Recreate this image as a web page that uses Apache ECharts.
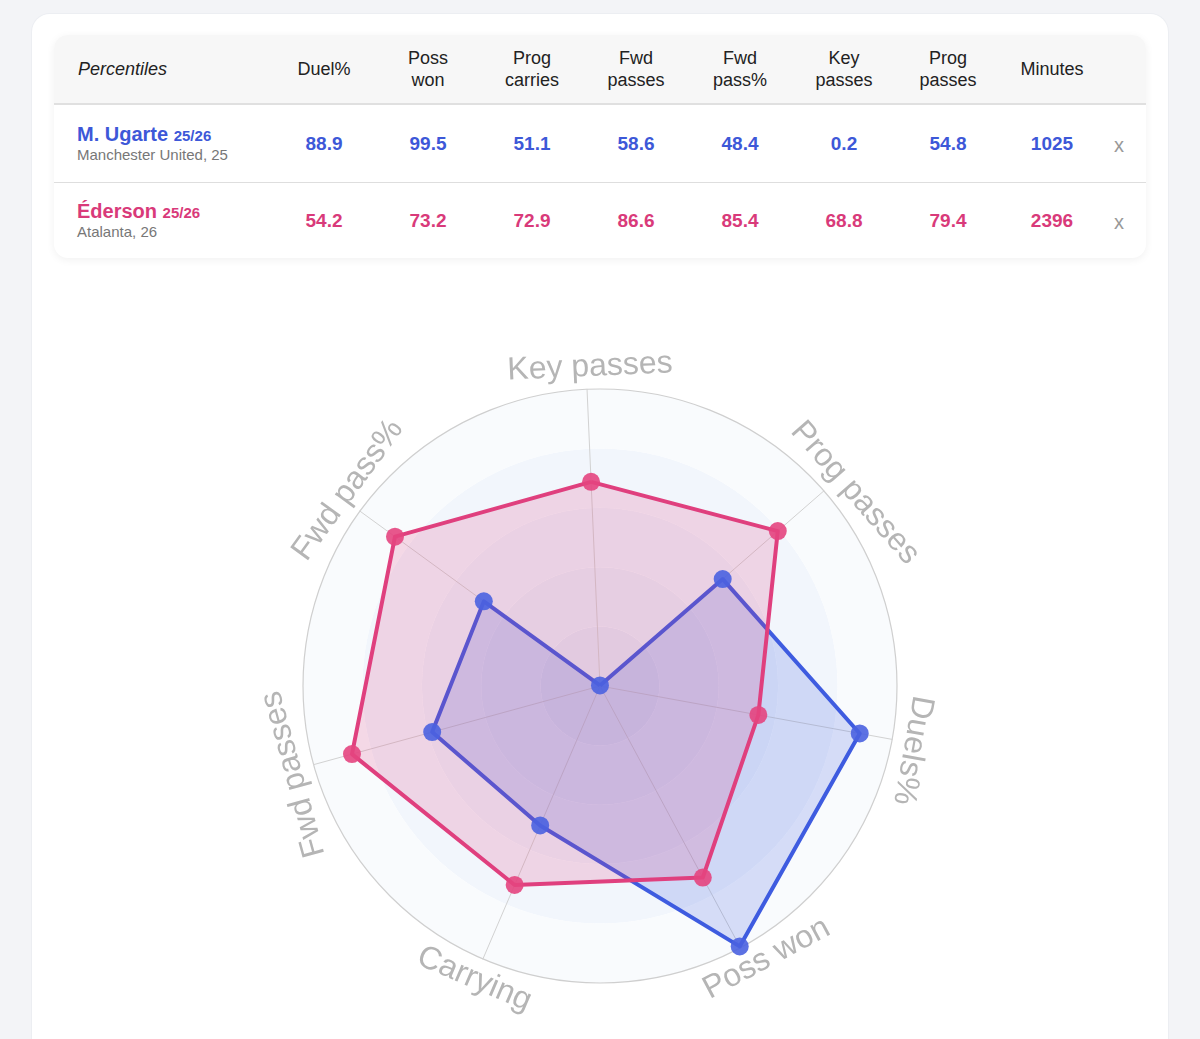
<!DOCTYPE html>
<html>
<head>
<meta charset="utf-8">
<script src="https://cdn.jsdelivr.net/npm/echarts@6/dist/echarts.min.js"></script>
<style>
  html, body { margin: 0; padding: 0; }
  body {
    width: 1200px; height: 1039px; overflow: hidden; position: relative;
    background: #f3f4f7;
    font-family: "Liberation Sans", Arial, Helvetica, sans-serif;
  }
  .card {
    position: absolute; left: 32px; top: 14px; width: 1136px; height: 1100px;
    background: #fff; border-radius: 18px;
    box-shadow: 0 0 0 1px #eceef2;
  }
  .table_box {
    position: absolute; left: 54px; top: 35px; width: 1092px;
    background: #fff; border-radius: 14px; overflow: hidden;
    box-shadow: 0 2px 8px rgba(0, 0, 0, 0.06);
  }
  table { border-collapse: collapse; table-layout: fixed; width: 1092px; }
  th {
    background: #f7f7f7; font-weight: normal; color: #222; font-size: 18px;
    line-height: 22px; height: 68px; padding: 0; text-align: center;
    border-bottom: 2px solid #e0e0e0;
  }
  th.first { text-align: left; padding-left: 24px; font-style: italic; }
  td { padding: 0; text-align: center; font-size: 19px; font-weight: bold; }
  tr.r1 td { height: 77px; border-bottom: 1px solid #dedede; }
  tr.r2 td { height: 75px; }
  td.player { text-align: left; padding-left: 23px; font-weight: normal; }
  .pname { font-size: 20px; font-weight: bold; line-height: 20px; }
  .pname small { font-size: 15px; }
  .pteam { font-size: 15px; color: #777; line-height: 18px; }
  td.close { color: #999; font-weight: normal; font-size: 20px; text-align: left; padding-left: 10px; }
  td.close span { position: relative; top: 2px; }
  #radar { position: absolute; left: 0; top: 270px; width: 1200px; height: 769px; }
</style>
</head>
<body>
<div class="card"></div>
<div class="table_box"><table id="stats"></table></div>
<div id="radar"></div>
<script>
// table
var columns = ["Duel%", "Poss won", "Prog carries", "Fwd passes", "Fwd pass%", "Key passes", "Prog passes", "Minutes"];
var players = ["M. Ugarte", "Éderson"];
var seasons = ["25/26", "25/26"];
var teams = ["Manchester United, 25", "Atalanta, 26"];
var colors = ["#3d58d8", "#d93a7a"];
var ugarteRow = [88.9, 99.5, 51.1, 58.6, 48.4, 0.2, 54.8, 1025];
var edersonRow = [54.2, 73.2, 72.9, 86.6, 85.4, 68.8, 79.4, 2396];

// radar (counter-clockwise from the top)
var indicators = ["Key passes", "Fwd pass%", "Fwd passes", "Carrying", "Poss won", "Duels%", "Prog passes"];
var ugarteValues = [0.2, 48.4, 58.6, 51.1, 99.5, 88.9, 54.8];
var edersonValues = [68.8, 85.4, 86.6, 72.9, 73.2, 54.2, 79.4];

function buildTable() {
  var rows = [ugarteRow, edersonRow];
  var html = '<colgroup><col style="width:218px">';
  columns.forEach(function () { html += '<col style="width:104px">'; });
  html += '<col style="width:42px"></colgroup>';
  html += '<tr><th class="first">Percentiles</th>';
  columns.forEach(function (c) { html += "<th>" + c.replace(" ", "<br>") + "</th>"; });
  html += "<th></th></tr>";
  rows.forEach(function (row, i) {
    html += '<tr class="r' + (i + 1) + '" style="color:' + colors[i] + '">';
    html += '<td class="player"><div class="pname">' + players[i] + " <small>" + seasons[i] +
      '</small></div><div class="pteam">' + teams[i] + "</div></td>";
    row.forEach(function (v) { html += "<td>" + v + "</td>"; });
    html += '<td class="close"><span>x</span></td></tr>';
  });
  document.getElementById("stats").innerHTML = html;
}
buildTable();

var chart = echarts.init(document.getElementById("radar"));
var cx = 600, cy = 416, radius = 297, labelR = 319, startAngle = 92.5;
// small slide of each name along its reading direction (px)
var nameShift = [4, 10, -4, 0, 18, 7, 22];

// axis names drawn along the circle
var nameLabels = indicators.map(function (name, i) {
  var theta = (startAngle + i * 360 / indicators.length) * Math.PI / 180;
  var flip = Math.sin(theta) < -0.5;
  var rot = flip ? theta + Math.PI / 2 : theta - Math.PI / 2;
  return {
    type: "text",
    x: cx + labelR * Math.cos(theta) + nameShift[i] * Math.cos(rot),
    y: cy - labelR * Math.sin(theta) - nameShift[i] * Math.sin(rot),
    rotation: rot,
    silent: true,
    style: {
      text: name,
      fill: "#b5b5b5",
      fontSize: 32,
      fontFamily: "Liberation Sans, Arial, sans-serif",
      align: "center",
      verticalAlign: "middle"
    }
  };
});

var option = {
  animation: false,
  radar: {
    center: [cx, cy],
    radius: radius,
    startAngle: startAngle,
    shape: "circle",
    splitNumber: 5,
    indicator: indicators.map(function (n) { return { name: n, min: 0, max: 100 }; }),
    axisName: { show: false },
    axisLine: { lineStyle: { color: "#d2d2d2", width: 1 } },
    splitLine: {
      lineStyle: { color: ["transparent", "transparent", "transparent", "transparent", "transparent", "#cfcfcf"], width: 1.2 }
    },
    splitArea: {
      areaStyle: { color: ["#e3eaf6", "#e8eef8", "#edf2fa", "#f2f6fc", "#f9fbfd"] }
    }
  },
  graphic: nameLabels,
  series: [
    {
      type: "radar",
      symbol: "circle",
      symbolSize: 18,
      data: [
        {
          name: players[0],
          value: ugarteValues,
          lineStyle: { color: "#3f5ce0", width: 4 },
          itemStyle: { color: "#4a62e0", opacity: 0.9 },
          areaStyle: { color: "rgba(61, 92, 224, 0.27)" }
        },
        {
          name: players[1],
          value: edersonValues,
          lineStyle: { color: "#e0407e", width: 4 },
          itemStyle: { color: "#e4457f", opacity: 0.9 },
          areaStyle: { color: "rgba(222, 62, 128, 0.26)" }
        }
      ]
    }
  ]
};
chart.setOption(option);
</script>
</body>
</html>
